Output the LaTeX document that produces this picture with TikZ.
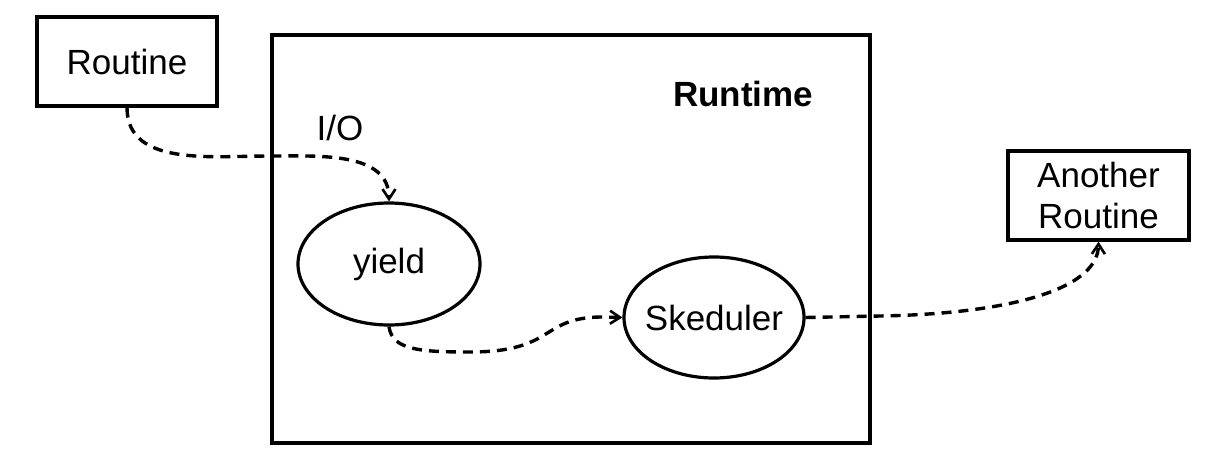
\documentclass[tikz,border=0pt]{standalone}
\usepackage{fontspec}
\setmainfont{Liberation Sans}
\usetikzlibrary{arrows.meta,shapes.geometric}
\begin{document}
\begin{tikzpicture}[x=1pt,y=-1pt,
  every node/.style={font=\fontsize{35}{41}\selectfont},
  boxnode/.style={draw,line width=3.2pt,inner sep=0pt,align=center},
  ellnode/.style={draw,ellipse,line width=3.2pt,inner sep=0pt},
  conn/.style={line width=3.4pt,dash pattern=on 10pt off 7pt,-{Straight Barb[length=10pt,width=13pt,line width=2.6pt]}}]
\useasboundingbox (0,0) rectangle (1210,466);
\fill[white] (0,0) rectangle (1210,466);
\node[boxnode,minimum width=180pt,minimum height=89pt] (routine) at (127,61.5) {Routine};
\node[boxnode,minimum width=598pt,minimum height=408pt] (runtime) at (571,239) {};
\node[font=\fontsize{35}{41}\selectfont\bfseries] (rtlabel) at (743,94) {Runtime};
\node (io) at (340,128) {I/O};
\node[ellnode,minimum width=182pt,minimum height=122pt] (yield) at (389,264) {\makebox[0pt]{yield}};
\node[ellnode,minimum width=180pt,minimum height=121pt] (sked) at (714,317.5) {\makebox[0pt]{Skeduler}};
\node[boxnode,minimum width=181pt,minimum height=89pt] (another) at (1098.5,195.5) {Another\\Routine};
\coordinate (m1) at (270,156);
\coordinate (m2) at (470,352);
\coordinate (m3) at (600,317);
\coordinate (m4) at (880,316);
\draw[conn] (routine.south) to[out=-90,in=180] (m1) to[out=0,in=90] (yield.north);
\draw[conn] (yield.south) .. controls (392,350) and (420,352) .. (m2) .. controls (555,352) and (540,318) .. (m3) -- (sked.west);
\draw[conn] (sked.east) -- (m4) .. controls (1000,314) and (1098,292) .. (another.south);
\end{tikzpicture}
\end{document}
